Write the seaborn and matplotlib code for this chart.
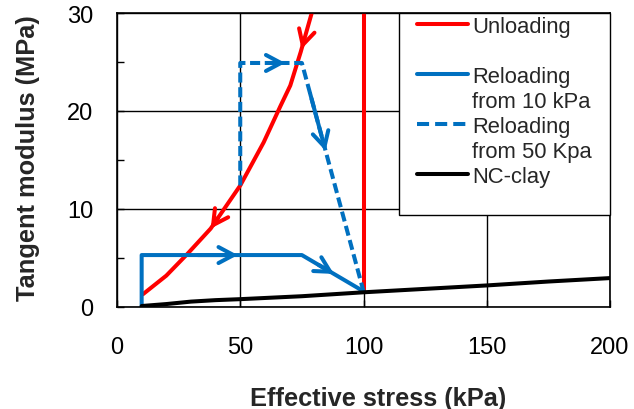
import numpy as np
import matplotlib
matplotlib.use("Agg")
import matplotlib.pyplot as plt
from matplotlib.lines import Line2D
from matplotlib.legend_handler import HandlerLine2D
from matplotlib.ticker import MultipleLocator
import seaborn as sns

# unloading: straight up at 100 kPa, then back down along the curve
unload_vert_x = [100, 100]
unload_vert_y = [1.6, 30]
unload_curve_x = [79, 74.5, 70.3, 66.3, 59.5, 50, 38, 28.5, 20, 10.5]
unload_curve_y = [30, 26, 22.6, 20.5, 16.8, 12.4, 8.0, 5.4, 3.2, 1.3]

# reloading paths
reload10_x = [10, 10, 75, 100]
reload10_y = [0, 5.3, 5.3, 1.6]
reload50_x = [50, 50, 75, 100]
reload50_y = [12.4, 24.9, 24.9, 1.6]

# normally consolidated clay
nc_x = [10, 20, 30, 40, 50, 75, 100, 125, 150, 175, 200]
nc_y = [0.1, 0.3, 0.55, 0.7, 0.8, 1.1, 1.5, 1.85, 2.2, 2.6, 2.95]

legend_labels = ["Unloading", "Reloading", "from 10 kPa", "Reloading", "from 50 Kpa", "NC-clay"]

RED = "#FF0000"
BLUE = "#0070C0"

sns.set_style("ticks")
plt.rcParams['font.family'] = ['Liberation Sans', 'DejaVu Sans']

fig = plt.figure(figsize=(6.34, 4.10), dpi=100)
ax = fig.add_axes([117/634, 1 - 308/410, (610 - 117)/634, (308 - 14)/410])

lw = 2.9
dash = (0, (2.5, 1.15))
line_kw = dict(sort=False, estimator=None, lw=lw, ax=ax, legend=False)
sns.lineplot(x=unload_vert_x, y=unload_vert_y, color=RED, **line_kw)
sns.lineplot(x=unload_curve_x, y=unload_curve_y, color=RED, **line_kw)
sns.lineplot(x=reload10_x, y=reload10_y, color=BLUE, **line_kw)
sns.lineplot(x=reload50_x, y=reload50_y, color=BLUE, linestyle=dash, **line_kw)
sns.lineplot(x=nc_x, y=nc_y, color="black", **line_kw)


def arrow_on(xs, ys, i, frac, color):
    # put an open arrow head on segment i of a path, pointing along the path
    x0, y0, x1, y1 = xs[i], ys[i], xs[i + 1], ys[i + 1]
    tx, ty = x0 + frac * (x1 - x0), y0 + frac * (y1 - y0)
    f2 = max(frac - 0.25, 0)
    sx, sy = x0 + f2 * (x1 - x0), y0 + f2 * (y1 - y0)
    ax.annotate("", xy=(tx, ty), xytext=(sx, sy),
                arrowprops=dict(arrowstyle="->,head_length=0.6,head_width=0.32",
                                color=color, lw=lw, shrinkA=0, shrinkB=0,
                                mutation_scale=18))


arrow_on(unload_curve_x, unload_curve_y, 0, 0.92, RED)
arrow_on(unload_curve_x, unload_curve_y, 5, 1.0, RED)
arrow_on(reload10_x, reload10_y, 1, 0.6, BLUE)
arrow_on(reload10_x, reload10_y, 2, 0.52, BLUE)
arrow_on(reload50_x, reload50_y, 1, 0.73, BLUE)
arrow_on(reload50_x, reload50_y, 2, 0.385, BLUE)

ax.set_xlim(0, 200)
ax.set_ylim(0, 30)
ax.xaxis.set_major_locator(MultipleLocator(50))
ax.yaxis.set_major_locator(MultipleLocator(10))
ax.yaxis.set_minor_locator(MultipleLocator(5))
ax.grid(True, which="major", color="black", lw=1)
ax.tick_params(which="both", direction="in", length=5, width=1, color="black",
               labelsize=17, colors="black")
ax.tick_params(axis="x", pad=21)
ax.tick_params(axis="y", pad=17)
for s in ax.spines.values():
    s.set_color("black")
    s.set_linewidth(1.2)

ax.set_xlabel("Effective stress (kPa)", fontsize=18.3, fontweight="bold")
ax.set_ylabel("Tangent modulus (MPa)", fontsize=18.3, fontweight="bold")
ax.xaxis.set_label_coords(0.53, -0.27)
ax.yaxis.set_label_coords(-0.156, 0.51)

blank = Line2D([], [], color="none")
handles = [Line2D([], [], color=RED, lw=lw), blank,
           Line2D([], [], color=BLUE, lw=lw), blank,
           Line2D([], [], color=BLUE, lw=lw, linestyle=(0, (3, 1.5))), blank,
           Line2D([], [], color="black", lw=lw), blank]
labels = [legend_labels[0], " ", legend_labels[1], legend_labels[2],
          legend_labels[3], legend_labels[4], legend_labels[5], " "]
fs_leg = 15.8
px = fs_leg * 100 / 72
x0 = (399 - 117) / 493
leg = ax.legend(handles, labels, loc="upper left", bbox_to_anchor=(x0, 0, 1 - x0, 1),
                mode="expand", borderaxespad=0, fontsize=fs_leg, frameon=True,
                fancybox=False, handlelength=66 / px, handletextpad=4 / px,
                labelspacing=0.18, borderpad=3 / px,
                handler_map={Line2D: HandlerLine2D(xpad=15 / px)})
leg.get_frame().set_edgecolor("black")
leg.get_frame().set_linewidth(1)
leg.get_frame().set_alpha(1)

fig.savefig("out.png", dpi=100)
